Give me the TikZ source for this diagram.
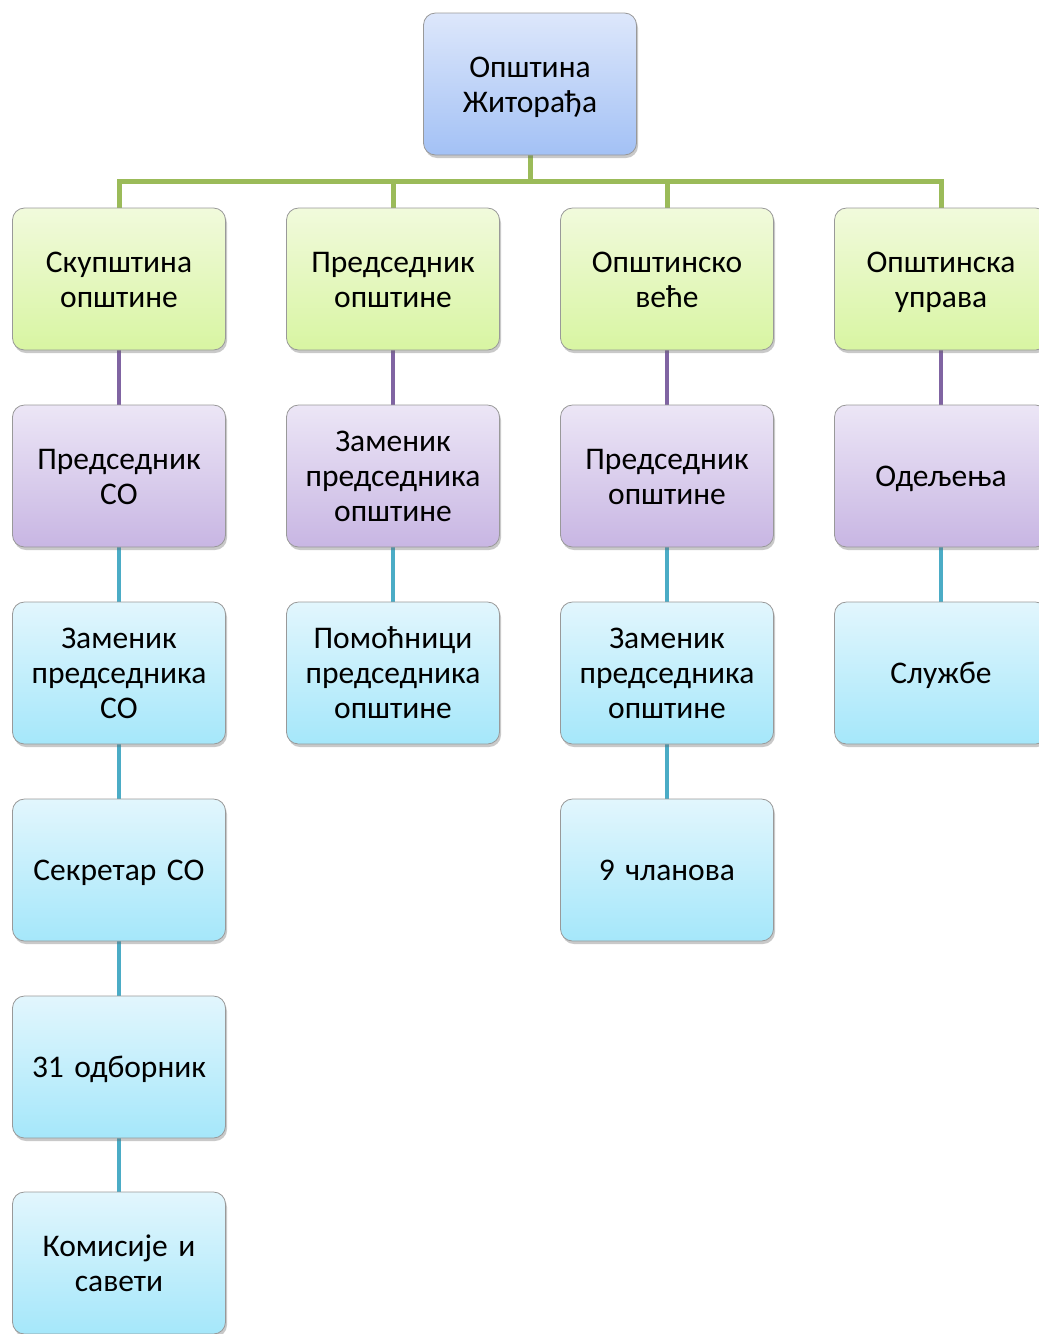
\documentclass[tikz,border=0pt]{standalone}
\usepackage{fontspec}
\setmainfont{Carlito}
\usetikzlibrary{shadows,backgrounds}
\definecolor{lineG}{HTML}{9BBB59}
\definecolor{lineP}{HTML}{8064A2}
\definecolor{lineB}{HTML}{4BACC6}
\definecolor{bTop}{HTML}{DDE7FB}
\definecolor{bBot}{HTML}{A3C1F5}
\definecolor{gTop}{HTML}{F1FADC}
\definecolor{gBot}{HTML}{D8F5A2}
\definecolor{pTop}{HTML}{ECE6F6}
\definecolor{pBot}{HTML}{C8B6E3}
\definecolor{cTop}{HTML}{E2F6FD}
\definecolor{cBot}{HTML}{A5E7FA}
\tikzset{
  orgbox/.style={draw=black!40, line width=0.8pt, rounded corners=12pt,
    minimum width=213pt, minimum height=142pt, text width=205pt, align=center,
    font=\fontsize{31.5}{35}\selectfont, inner sep=0pt,
    execute at begin node={\rule{0pt}{32pt}}, execute at end node=\strut,
    drop shadow={shadow xshift=1.5pt, shadow yshift=-3pt, opacity=0.35, fill=black!60}},
  topbox/.style={orgbox, top color=bTop, bottom color=bBot},
  greenbox/.style={orgbox, top color=gTop, bottom color=gBot},
  purplebox/.style={orgbox, top color=pTop, bottom color=pBot},
  cyanbox/.style={orgbox, top color=cTop, bottom color=cBot},
  glink/.style={draw=lineG, line width=5pt},
  plink/.style={draw=lineP, line width=4.5pt},
  blink/.style={draw=lineB, line width=4.5pt},
}
\begin{document}
\begin{tikzpicture}[x=1pt,y=1pt]
\clip (0,0) rectangle (1039,-1334);
% top
\node[topbox] (top) at (530,-84) {Општина\\Житорађа};
% level 2
\node[greenbox] (a1) at (119,-279) {Скупштина\\општине};
\node[greenbox] (b1) at (393,-279) {Председник\\општине};
\node[greenbox] (c1) at (667,-279) {Општинско\\веће};
\node[greenbox] (d1) at (941,-279) {Општинска\\управа};
% level 3
\node[purplebox] (a2) at (119,-476) {Председник\\СО};
\node[purplebox] (b2) at (393,-476) {Заменик\\председника\\општине};
\node[purplebox] (c2) at (667,-476) {Председник\\општине};
\node[purplebox] (d2) at (941,-476) {Одељења};
% level 4
\node[cyanbox] (a3) at (119,-673) {Заменик\\председника\\СО};
\node[cyanbox] (b3) at (393,-673) {Помоћници\\председника\\општине};
\node[cyanbox] (c3) at (667,-673) {Заменик\\председника\\општине};
\node[cyanbox] (d3) at (941,-673) {Службе};
% level 5+
\node[cyanbox] (a4) at (119,-870) {Секретар СО};
\node[cyanbox] (c4) at (667,-870) {9 чланова};
\node[cyanbox] (a5) at (119,-1067) {31 одборник};
\node[cyanbox] (a6) at (119,-1263) {Комисије и\\савети};
\coordinate (bus) at (530,-181);
\begin{pgfonlayer}{background}
\fill[white] (0,0) rectangle (1039,-1334);
\draw[glink] (top.south) -- (bus);
\draw[glink] (bus) -| (a1.north);
\draw[glink] (bus) -| (b1.north);
\draw[glink] (bus) -| (c1.north);
\draw[glink] (bus) -| (d1.north);
\draw[plink] (a1) -- (a2);
\draw[plink] (b1) -- (b2);
\draw[plink] (c1) -- (c2);
\draw[plink] (d1) -- (d2);
\draw[blink] (a2) -- (a3);
\draw[blink] (b2) -- (b3);
\draw[blink] (c2) -- (c3);
\draw[blink] (d2) -- (d3);
\draw[blink] (a3) -- (a4);
\draw[blink] (c3) -- (c4);
\draw[blink] (a4) -- (a5);
\draw[blink] (a5) -- (a6);
\end{pgfonlayer}
\end{tikzpicture}
\end{document}
